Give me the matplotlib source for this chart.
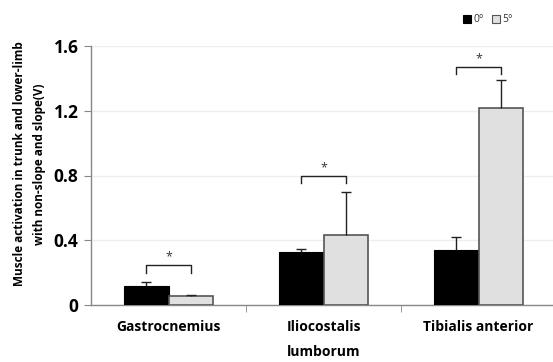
import matplotlib
matplotlib.use("Agg")
import matplotlib.pyplot as plt
import numpy as np
from matplotlib.patches import Rectangle

categories = ["Gastrocnemius", "Iliocostalis\nlumborum", "Tibialis anterior"]
series_names = ["0°", "5°"]
vals_0 = [0.12, 0.325, 0.338]
err_0 = [0.024, 0.019, 0.082]
vals_5 = [0.054, 0.434, 1.214]
err_5 = [0.006, 0.262, 0.179]
bracket_y = [0.245, 0.796, 1.469]
yticks = [0, 0.4, 0.8, 1.2, 1.6]
ytick_labels = ["0", "0.4", "0.8", "1.2", "1.6"]

plt.rcParams['font.family'] = ['Open Sans', 'DejaVu Sans']

fig = plt.figure(figsize=(5.53, 3.62), dpi=100)
ax = fig.add_axes([91/553, 1-305/362, 465/553, 259/362])

x = np.arange(len(categories))
w = 0.29
ax.bar(x - w/2, vals_0, w, color="black", edgecolor="black", linewidth=0.8, zorder=3)
ax.bar(x + w/2, vals_5, w, color="#e0e0e0", edgecolor="#555555", linewidth=1.2, zorder=3)

cap = 0.035
for xs, v, e in [(x - w/2, vals_0, err_0), (x + w/2, vals_5, err_5)]:
    top = np.array(v) + np.array(e)
    ax.vlines(xs, v, top, color="#222222", lw=1, zorder=4)
    ax.hlines(top, xs - cap, xs + cap, color="#222222", lw=1, zorder=4)

for i, by in enumerate(bracket_y):
    x0, x1 = x[i] - w/2, x[i] + w/2
    ax.plot([x0, x0, x1, x1], [by - 0.045, by, by, by - 0.045], color="#222222", lw=1, zorder=5)
    ax.text(x[i], by + 0.05, "*", ha="center", va="center", fontsize=9, color="#333333")

ax.set_xlim(-0.5, 2.5)
ax.set_ylim(0, 1.6)
ax.set_yticks(yticks)
ax.set_yticklabels(ytick_labels, fontsize=12.5, fontweight="bold")
ax.set_xticks(x)
ax.set_xticklabels(categories, fontsize=10, fontweight="bold", linespacing=2.0)
ax.tick_params(axis="x", length=0, pad=11)
ax.set_xticks([0.5, 1.5], minor=True)
ax.tick_params(axis="x", which="minor", length=5, color="#888888", direction="out")
ax.tick_params(axis="y", length=5, color="#888888", direction="out", pad=4)
ax.grid(axis="y", color="#eeeeee", lw=1, zorder=0)
ax.set_axisbelow(True)
for s in ["top", "right"]:
    ax.spines[s].set_visible(False)
for s in ["left", "bottom"]:
    ax.spines[s].set_color("#888888")
    ax.spines[s].set_linewidth(1)

fig.text(20/553, 1-164/362, "Muscle activation in trunk and lower-limb", rotation=90,
         ha="center", va="center", fontsize=8.5, fontweight="bold")
fig.text(40/553, 1-164/362, "with non-slope and slope(V)", rotation=90,
         ha="center", va="center", fontsize=8.5, fontweight="bold")

# legend
fig.patches.append(Rectangle((463/553, 1-23/362), 8/553, 8/362, transform=fig.transFigure,
                             facecolor="black", edgecolor="black", lw=0.8))
fig.text(473/553, 1-19/362, series_names[0], fontsize=7.5, va="center", ha="left", color="#333333")
fig.patches.append(Rectangle((492/553, 1-23/362), 8/553, 8/362, transform=fig.transFigure,
                             facecolor="#e0e0e0", edgecolor="#555555", lw=0.8))
fig.text(502/553, 1-19/362, series_names[1], fontsize=7.5, va="center", ha="left", color="#333333")

fig.savefig("out.png", dpi=100)
